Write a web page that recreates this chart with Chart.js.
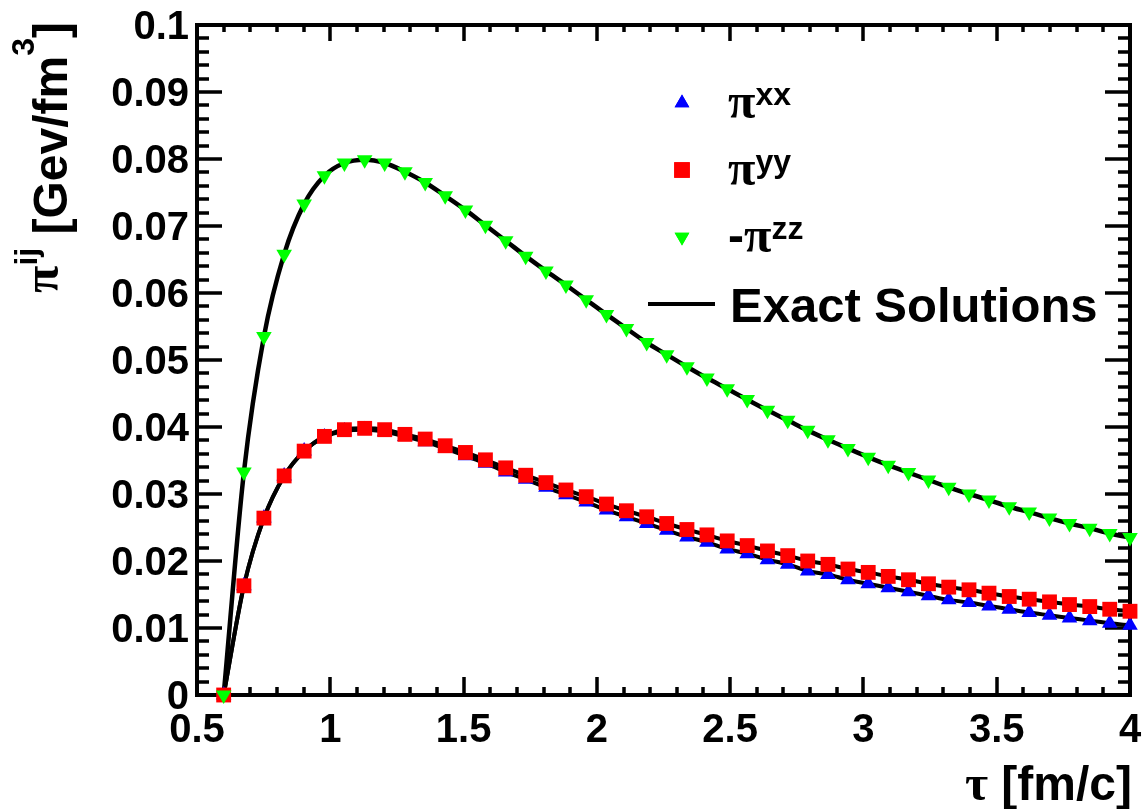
<!DOCTYPE html>
<html>
<head>
<meta charset="utf-8">
<script src="https://cdn.jsdelivr.net/npm/chart.js"></script>
<style>
  html, body { margin: 0; padding: 0; background: #fff; }
  #wrap { width: 1144px; height: 809px; position: relative; }
</style>
</head>
<body>
<div id="wrap"><canvas id="c"></canvas></div>
<script>
// proper time tau [fm/c] for every marker
const tau = [0.6, 0.676, 0.751, 0.827, 0.902, 0.978, 1.053, 1.129, 1.204, 1.280,
  1.356, 1.431, 1.507, 1.582, 1.658, 1.733, 1.809, 1.884, 1.960, 2.036,
  2.111, 2.187, 2.262, 2.338, 2.413, 2.489, 2.564, 2.640, 2.716, 2.791,
  2.867, 2.942, 3.018, 3.093, 3.169, 3.244, 3.320, 3.396, 3.471, 3.547,
  3.622, 3.698, 3.773, 3.849, 3.924, 4.0];

// pi^xx (blue up triangles)
const piXX = [0, 0.0163, 0.0264, 0.0327, 0.0364, 0.0385, 0.0394, 0.0396, 0.0393, 0.0386,
  0.0378, 0.0368, 0.0357, 0.0346, 0.0333, 0.0322, 0.0310, 0.0299, 0.0288, 0.0276,
  0.0266, 0.0256, 0.0246, 0.0236, 0.0228, 0.0218, 0.0211, 0.0202, 0.0195, 0.0185,
  0.0180, 0.0172, 0.0166, 0.0160, 0.0154, 0.0148, 0.0142, 0.0138, 0.0133, 0.0128,
  0.0123, 0.0119, 0.0115, 0.0111, 0.0107, 0.0104];

// pi^yy (red squares)
const piYY = [0, 0.0163, 0.0264, 0.0327, 0.0364, 0.0386, 0.0396, 0.0398, 0.0396, 0.0389,
  0.0382, 0.0372, 0.0362, 0.0351, 0.0339, 0.0328, 0.0317, 0.0306, 0.0296, 0.0285,
  0.0275, 0.0266, 0.0256, 0.0247, 0.0239, 0.0230, 0.0223, 0.0215, 0.0208, 0.0200,
  0.0195, 0.0188, 0.0183, 0.0177, 0.0172, 0.0166, 0.0161, 0.0157, 0.0152, 0.0147,
  0.0143, 0.0139, 0.0135, 0.0132, 0.0128, 0.0125];

// -pi^zz (green down triangles)
const piZZ = [0, 0.0333, 0.0535, 0.0658, 0.0733, 0.0775, 0.0794, 0.0799, 0.0794, 0.0781,
  0.0765, 0.0745, 0.0724, 0.0701, 0.0678, 0.0655, 0.0633, 0.0612, 0.0590, 0.0568,
  0.0547, 0.0526, 0.0508, 0.0490, 0.0473, 0.0457, 0.0441, 0.0425, 0.0410, 0.0395,
  0.0381, 0.0368, 0.0355, 0.0343, 0.0332, 0.0321, 0.0310, 0.0300, 0.0291, 0.0281,
  0.0273, 0.0264, 0.0256, 0.0249, 0.0241, 0.0235];

// axis ticks
const xTicks = [0.5, 1, 1.5, 2, 2.5, 3, 3.5, 4];
const xTickLabels = ["0.5", "1", "1.5", "2", "2.5", "3", "3.5", "4"];
const yTicks = [0, 0.01, 0.02, 0.03, 0.04, 0.05, 0.06, 0.07, 0.08, 0.09, 0.1];
const yTickLabels = ["0", "0.01", "0.02", "0.03", "0.04", "0.05", "0.06", "0.07", "0.08", "0.09", "0.1"];

const pts = arr => tau.map((t, i) => ({ x: t, y: arr[i] }));

const BOLD = '"Liberation Sans", Arial, sans-serif';
const SERIF = '"Liberation Serif", "Times New Roman", serif';

function marker(ctx, style, x, y) {
  ctx.save();
  ctx.fillStyle = style.color;
  if (Chart.helpers && Chart.helpers.drawPoint) {
    ctx.strokeStyle = style.color;
    ctx.lineWidth = 0;
    Chart.helpers.drawPoint(ctx, { pointStyle: style.shape, radius: style.r, rotation: style.rot || 0, borderWidth: 0 }, x, y);
    ctx.fill();
  }
  ctx.restore();
}

// frame, inward ticks, labels, titles and legend
const rootStyle = {
  id: 'rootStyle',
  beforeDatasetsDraw(chart) {
    const { ctx, chartArea: a, scales: { x, y } } = chart;
    ctx.save();
    ctx.strokeStyle = '#000';
    ctx.lineWidth = 3.5;
    ctx.lineCap = 'butt';
    ctx.beginPath();
    // x ticks, bottom and top
    for (let v = 0.5; v <= 4.0001; v += 0.1) {
      const px = Math.round(x.getPixelForValue(v));
      const major = Math.abs(v * 2 - Math.round(v * 2)) < 1e-6;
      const len = major ? 18 : 8;
      ctx.moveTo(px, a.bottom); ctx.lineTo(px, a.bottom - len);
      ctx.moveTo(px, a.top); ctx.lineTo(px, a.top + (major ? 16 : 7));
    }
    // y ticks, left and right
    for (let i = 0; i <= 50; i++) {
      const v = i * 0.002;
      const py = Math.round(y.getPixelForValue(v));
      const len = i % 5 === 0 ? 25 : 12;
      ctx.moveTo(a.left, py); ctx.lineTo(a.left + len, py);
      ctx.moveTo(a.right, py); ctx.lineTo(a.right - len, py);
    }
    ctx.stroke();
    ctx.lineWidth = 4;
    ctx.strokeRect(a.left, a.top, a.right - a.left, a.bottom - a.top);
    ctx.restore();
  },
  afterDraw(chart) {
    const { ctx, scales: { x, y } } = chart;
    ctx.save();
    ctx.fillStyle = '#000';
    // tick labels
    ctx.font = 'bold 40px ' + BOLD;
    ctx.textAlign = 'right';
    ctx.textBaseline = 'alphabetic';
    yTicks.forEach((v, i) => ctx.fillText(yTickLabels[i], 189, y.getPixelForValue(v) + 14));
    ctx.textAlign = 'center';
    xTicks.forEach((v, i) => ctx.fillText(xTickLabels[i], x.getPixelForValue(v), 742));

    // x title: tau [fm/c]
    ctx.textAlign = 'left';
    ctx.font = 'bold 48px ' + BOLD;
    const rest = ' [fm/c]';
    const wRest = ctx.measureText(rest).width;
    ctx.fillText(rest, 1132 - wRest, 800);
    ctx.font = 'bold 50px ' + SERIF;
    const wTau = ctx.measureText('\u03c4').width;
    ctx.fillText('\u03c4', 1132 - wRest - wTau, 800);

    // y title: pi^ij [Gev/fm^3], rotated
    ctx.save();
    ctx.translate(67, 293);
    ctx.rotate(-Math.PI / 2);
    const parts = [
      ['\u03c0', 'bold 50px ' + SERIF, 9],
      ['ij', 'bold 32px ' + BOLD, 30],
      [' [Gev/fm', 'bold 48px ' + BOLD, 0],
      ['3', 'bold 32px ' + BOLD, 33],
      [']', 'bold 48px ' + BOLD, 0]
    ];
    let pos = 0;
    parts.forEach(([t, f, up]) => {
      ctx.font = f;
      ctx.fillText(t, pos, -up);
      pos += ctx.measureText(t).width;
    });
    ctx.restore();

    // legend
    const rows = [
      { y: 103, pre: '', sup: 'xx', m: { shape: 'triangle', r: 8.5, color: '#0000ff' } },
      { y: 170, pre: '', sup: 'yy', m: { shape: 'rect', r: 11, color: '#ff0000' } },
      { y: 237, pre: '-', sup: 'zz', m: { shape: 'triangle', r: 8.5, rot: 180, color: '#00ff00' } }
    ];
    rows.forEach(r => {
      marker(ctx, r.m, 682, r.y);
      ctx.fillStyle = '#000';
      let px = 728;
      if (r.pre) {
        ctx.font = 'bold 48px ' + BOLD;
        ctx.fillText(r.pre, px, r.y + 15);
        px += ctx.measureText(r.pre).width;
      }
      ctx.font = 'bold 50px ' + SERIF;
      ctx.fillText('\u03c0', px, r.y + 15);
      px += ctx.measureText('\u03c0').width;
      ctx.font = 'bold 32px ' + BOLD;
      ctx.fillText(r.sup, px, r.y + 2);
    });
    ctx.strokeStyle = '#000';
    ctx.lineWidth = 4;
    ctx.beginPath();
    ctx.moveTo(648, 304); ctx.lineTo(715, 304);
    ctx.stroke();
    ctx.font = 'bold 49px ' + BOLD;
    ctx.fillText('Exact Solutions', 730, 322);
    ctx.restore();
  }
};

const lineOpts = { showLine: true, borderColor: '#000', pointRadius: 0, fill: false,
  cubicInterpolationMode: 'monotone', order: 10, clip: false };

new Chart(document.getElementById('c'), {
  type: 'scatter',
  data: {
    datasets: [
      Object.assign({ label: 'exact xx', data: pts(piXX), borderWidth: 4 }, lineOpts),
      Object.assign({ label: 'exact yy', data: pts(piYY), borderWidth: 4 }, lineOpts),
      Object.assign({ label: 'exact zz', data: pts(piZZ), borderWidth: 4.5 }, lineOpts),
      { label: 'pi xx', data: pts(piXX), pointStyle: 'triangle', pointRadius: 9,
        backgroundColor: '#0000ff', borderWidth: 0, order: 3, clip: false },
      { label: 'pi yy', data: pts(piYY), pointStyle: 'rect', pointRadius: 10.5,
        backgroundColor: '#ff0000', borderWidth: 0, order: 2, clip: false },
      { label: '-pi zz', data: pts(piZZ), pointStyle: 'triangle', rotation: 180, pointRadius: 9,
        backgroundColor: '#00ff00', borderWidth: 0, order: 1, clip: false }
    ]
  },
  options: {
    responsive: true,
    maintainAspectRatio: false,
    animation: false,
    layout: { padding: { left: 197, right: 14, top: 25, bottom: 114 } },
    plugins: { legend: { display: false }, tooltip: { enabled: false } },
    scales: {
      x: { type: 'linear', min: 0.5, max: 4, display: false },
      y: { type: 'linear', min: 0, max: 0.1, display: false }
    }
  },
  plugins: [rootStyle]
});
</script>
</body>
</html>
